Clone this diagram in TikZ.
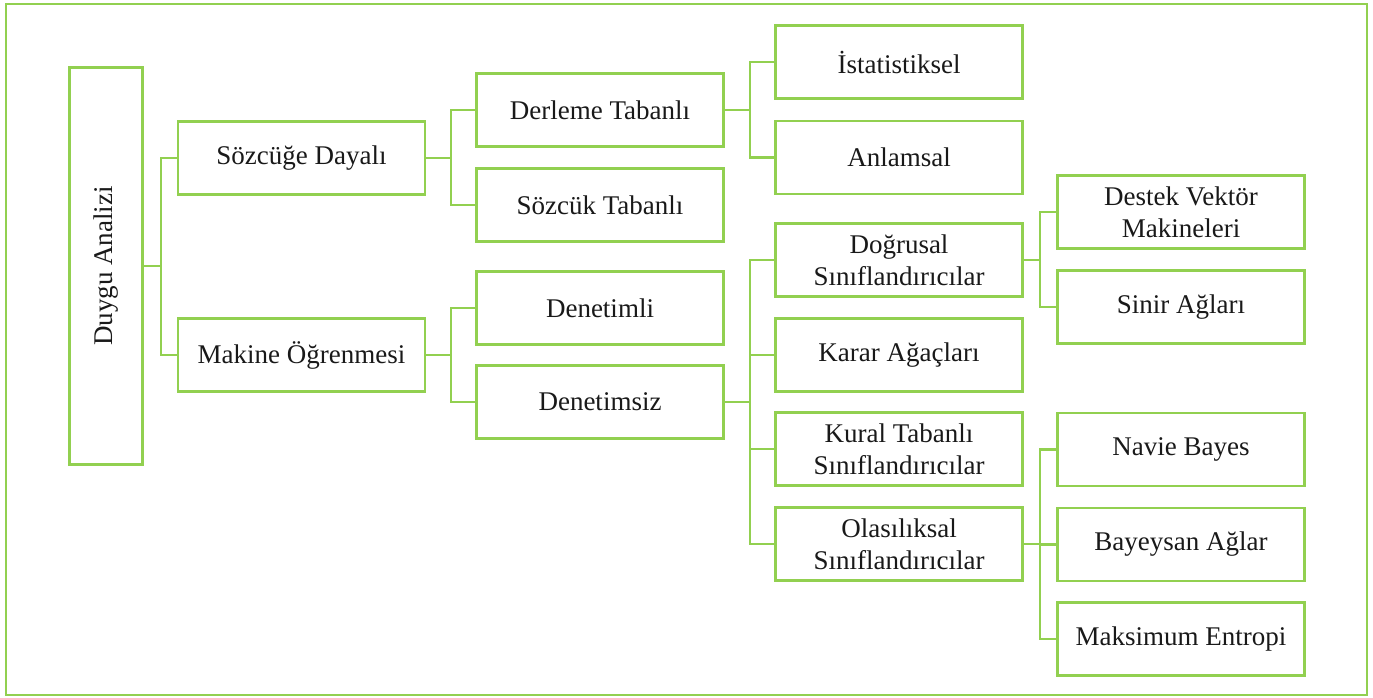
\documentclass[tikz,border=0pt]{standalone}
\usepackage{fontspec}
\setmainfont{Liberation Serif}
\definecolor{lgreen}{RGB}{146,208,80}
\tikzset{
  x=1pt,y=-1pt,
  box/.style={draw=lgreen, line width=2.8pt, minimum width=247pt, minimum height=73pt,
    inner sep=2pt, align=center, font=\fontsize{27}{32}\selectfont, text=black!90},
  conn/.style={draw=lgreen, line width=2.8pt},
}
\begin{document}
\begin{tikzpicture}
\useasboundingbox (0,0) rectangle (1373,698);
\draw[lgreen, line width=2pt] (6,4) rectangle (1367,695);

\node[box, minimum width=73pt, minimum height=397pt] (da) at (106,266) {\rotatebox{90}{Duygu Analizi}};

\node[box] (sd) at (301.5,158) {Sözcüğe Dayalı};
\node[box] (mo) at (301.5,355) {Makine Öğrenmesi};

\node[box] (dt) at (600,110) {Derleme Tabanlı};
\node[box] (st) at (600,205) {Sözcük Tabanlı};
\node[box] (dl) at (600,308) {Denetimli};
\node[box] (ds) at (600,402) {Denetimsiz};

\node[box] (is) at (899,62) {İstatistiksel};
\node[box] (an) at (899,157.5) {Anlamsal};
\node[box] (do) at (899,260) {Doğrusal\\Sınıflandırıcılar};
\node[box] (ka) at (899,355) {Karar Ağaçları};
\node[box] (ku) at (899,449) {Kural Tabanlı\\Sınıflandırıcılar};
\node[box] (ol) at (899,544) {Olasılıksal\\Sınıflandırıcılar};

\node[box] (dv) at (1181,212) {Destek Vektör\\Makineleri};
\node[box] (sa) at (1181,307) {Sinir Ağları};
\node[box] (nb) at (1181,449.5) {Navie Bayes};
\node[box] (ba) at (1181,544.5) {Bayeysan Ağlar};
\node[box] (me) at (1181,639) {Maksimum Entropi};

\coordinate (j1) at (161,0);
\coordinate (j2) at (451,0);
\coordinate (j3) at (750,0);
\coordinate (j4) at (1040,0);

\draw[conn] (da.east) -- (da.east -| j1);
\draw[conn] (sd.west) -| (da.east -| j1) |- (mo.west);

\draw[conn] (sd.east) -- (sd.east -| j2);
\draw[conn] (dt.west) -| (sd.east -| j2) |- (st.west);
\draw[conn] (mo.east) -- (mo.east -| j2);
\draw[conn] (dl.west) -| (mo.east -| j2) |- (ds.west);

\draw[conn] (dt.east) -- (dt.east -| j3);
\draw[conn] (is.west) -| (dt.east -| j3) |- (an.west);
\draw[conn] (ds.east) -- (ds.east -| j3);
\draw[conn] (do.west) -| (ds.east -| j3) |- (ol.west);
\draw[conn] (ka.west) -- (ka.west -| j3);
\draw[conn] (ku.west) -- (ku.west -| j3);

\draw[conn] (do.east) -- (do.east -| j4);
\draw[conn] (dv.west) -| (do.east -| j4) |- (sa.west);
\draw[conn] (ol.east) -- (ol.east -| j4);
\draw[conn] (nb.west) -| (ol.east -| j4) |- (me.west);
\draw[conn] (ba.west) -- (ba.west -| j4);
\end{tikzpicture}
\end{document}
